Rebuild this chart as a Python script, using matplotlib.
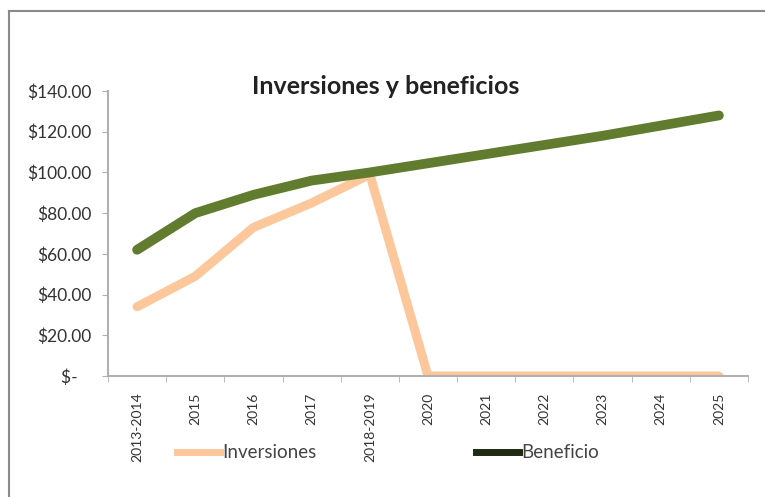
import matplotlib.pyplot as plt
from matplotlib.lines import Line2D
from matplotlib.ticker import FuncFormatter

categorias = ['2013-2014', '2015', '2016', '2017', '2018-2019', '2020',
              '2021', '2022', '2023', '2024', '2025']
inversiones = [34, 49, 73, 85, 99, 0, 0, 0, 0, 0, 0]
beneficio = [62, 80, 89, 96, 100, 104.5, 109, 113.5, 118, 123, 128]

col_inv = '#fcc89b'
col_ben = '#617b2f'


def moneda(v, pos):
    if v == 0:
        return '$-   '
    return '${:,.2f}'.format(v)


if __name__ == "__main__":
    plt.rcParams['font.family'] = ['Lato', 'DejaVu Sans']
    fig = plt.figure(figsize=(7.65, 4.97), dpi=100)
    ax = fig.add_axes([108 / 765, 1 - 376 / 497, 640 / 765, 285 / 497])

    x = list(range(len(categorias)))
    ax.plot(x, inversiones, color=col_inv, lw=6.5, solid_capstyle='round',
            solid_joinstyle='round')
    ax.plot(x, beneficio, color=col_ben, lw=7, solid_capstyle='round',
            solid_joinstyle='round')

    ax.set_xlim(-0.5, len(categorias) - 0.5)
    ax.set_ylim(0, 140)
    ax.set_yticks(range(0, 141, 20))
    ax.yaxis.set_major_formatter(FuncFormatter(moneda))
    ax.set_xticks(x)
    ax.set_xticklabels(categorias, rotation=90, fontsize=10, color='#333333')
    ax.set_xticks([i - 0.5 for i in range(len(categorias) + 1)], minor=True)
    ax.tick_params(axis='x', which='major', length=0, pad=12)
    ax.tick_params(axis='x', which='minor', length=4, color='#b0b0b0')
    ax.tick_params(axis='y', length=4, color='#b0b0b0', labelsize=12.5,
                   labelcolor='#333333', pad=8)
    for s in ['top', 'right']:
        ax.spines[s].set_visible(False)
    ax.spines['left'].set_color('#b0b0b0')
    ax.spines['bottom'].set_color('#b0b0b0')
    ax.spines['left'].set_linewidth(1.5)
    ax.spines['bottom'].set_linewidth(1.5)

    fig.text(386 / 765, 1 - 87 / 497, 'Inversiones y beneficios',
             ha='center', va='center', fontsize=18, fontweight='bold',
             color='#222222')

    handles = [Line2D([], [], color=col_inv, lw=5),
               Line2D([], [], color='#1e2a12', lw=5)]
    fig.legend(handles, ['Inversiones', 'Beneficio'], loc='center',
               bbox_to_anchor=(388 / 765, 1 - 453 / 497), ncol=2,
               frameon=False, fontsize=13.5, handlelength=2.3,
               handletextpad=0.1, columnspacing=8.5, labelcolor='#444444')

    # marco exterior (solo visible arriba e izquierda)
    fig.add_artist(Line2D([9 / 765, 1], [1 - 11 / 497, 1 - 11 / 497],
                          color='#8a8a8a', lw=1.5, transform=fig.transFigure))
    fig.add_artist(Line2D([9 / 765, 9 / 765], [0, 1 - 11 / 497],
                          color='#8a8a8a', lw=1.5, transform=fig.transFigure))

    fig.savefig('out.png', dpi=100)
    pass
